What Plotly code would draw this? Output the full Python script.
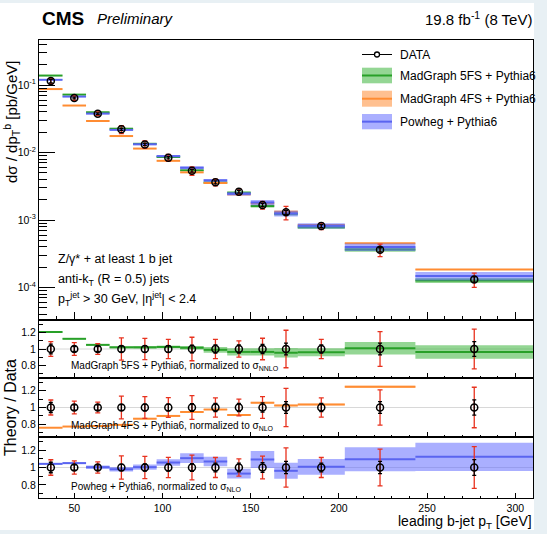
import plotly.graph_objects as go

# ---- binning (leading b-jet pT, GeV) ----
edges = [30, 43.33, 56.67, 70, 83.33, 96.67, 110, 123.33, 136.67, 150,
         163.33, 176.67, 203.33, 243.33, 310]
data_x = [36.7, 50, 63.3, 76.7, 90, 103.3, 116.7, 130, 143.3, 156.7,
          170, 190, 223.3, 276.7]

# ---- unfolded data: dsigma/dpT [pb/GeV] ----
data_xsec = [0.1146, 0.0642, 0.0376, 0.0221, 0.0132, 0.00837, 0.00537,
             0.00362, 0.00263, 0.00167, 0.00130, 0.000815, 0.000363, 0.000132]
data_tot_rel = [0.089, 0.076, 0.064, 0.134, 0.128, 0.117, 0.142, 0.115,
                0.099, 0.130, 0.226, 0.115, 0.210, 0.240]
data_stat_rel = [0.060, 0.030, 0.030, 0.035, 0.040, 0.040, 0.045, 0.050,
                 0.050, 0.055, 0.070, 0.050, 0.070, 0.090]

# ---- predictions, as theory / data ratios with relative MC uncertainty ----
mg5_ratio = [1.205, 1.123, 1.050, 1.020, 1.020, 1.025, 1.015, 0.990,
             0.965, 0.965, 0.955, 0.960, 1.008, 0.963]
mg5_unc = [0.005, 0.006, 0.008, 0.012, 0.015, 0.015, 0.020, 0.035,
           0.045, 0.045, 0.060, 0.050, 0.075, 0.085]
mg4_ratio = [0.760, 0.774, 0.780, 0.794, 0.867, 0.900, 0.947, 0.976,
             0.911, 1.057, 1.024, 1.036, 1.246, 1.400]
mg4_unc = [0.005, 0.005, 0.005, 0.005, 0.006, 0.006, 0.006, 0.007,
           0.007, 0.008, 0.008, 0.008, 0.010, 0.010]
pow_ratio = [1.042, 1.050, 1.004, 0.980, 1.004, 1.057, 1.107, 1.069,
             0.930, 1.092, 0.962, 1.008, 1.095, 1.122]
pow_unc = [0.008, 0.010, 0.020, 0.025, 0.030, 0.035, 0.050, 0.050,
           0.060, 0.090, 0.095, 0.090, 0.125, 0.145]

x_ticks = [50, 100, 150, 200, 250, 300]
y_decades = [1e-4, 1e-3, 1e-2, 1e-1]
y_decade_text = ["10<sup>-4</sup>", "10<sup>-3</sup>", "10<sup>-2</sup>", "10<sup>-1</sup>"]
ratio_ticks = [0.8, 1.0, 1.2]
ratio_ticktext = ["0.8", "1", "1.2"]

models = [
    ("MadGraph 5FS + Pythia6", mg5_ratio, mg5_unc, "rgba(60,180,60,0.55)", "rgb(40,160,40)",
     "MadGraph 5FS + Pythia6, normalized to σ<sub>NNLO</sub>"),
    ("MadGraph 4FS + Pythia6", mg4_ratio, mg4_unc, "rgba(255,150,70,0.6)", "rgb(255,140,50)",
     "MadGraph 4FS + Pythia6, normalized to σ<sub>NLO</sub>"),
    ("Powheg + Pythia6", pow_ratio, pow_unc, "rgba(100,110,255,0.55)", "rgb(90,100,240)",
     "Powheg + Pythia6, normalized to σ<sub>NLO</sub>"),
]

FONT = "Liberation Sans, Arial, sans-serif"
W, H = 547, 534
ML, MR, MT, MB = 39, 14, 40, 36
PW, PH = W - ML - MR, H - MT - MB


def px(x):
    return (x - ML) / PW


def py(y):
    return (H - MB - y) / PH


def boxes(vals, rel):
    xs, ys = [], []
    for i, v in enumerate(vals):
        lo, hi = v * (1 - rel[i]), v * (1 + rel[i])
        xs += [edges[i], edges[i + 1], edges[i + 1], edges[i], edges[i], None]
        ys += [lo, lo, hi, hi, lo, None]
    return xs, ys


def segments(vals):
    xs, ys = [], []
    for i, v in enumerate(vals):
        xs += [edges[i], edges[i + 1], None]
        ys += [v, v, None]
    return xs, ys


fig = go.Figure()

# ---- main panel: predictions ----
for name, ratio, unc, fillc, linec, _ in models:
    pred = [r * d for r, d in zip(ratio, data_xsec)]
    bx, by = boxes(pred, unc)
    fig.add_trace(go.Scatter(x=bx, y=by, fill="toself", fillcolor=fillc, mode="none",
                             xaxis="x", yaxis="y", hoverinfo="skip", showlegend=False))
    sx, sy = segments(pred)
    fig.add_trace(go.Scatter(x=sx, y=sy, mode="lines", line=dict(color=linec, width=2),
                             xaxis="x", yaxis="y", hoverinfo="skip", showlegend=False))


def add_data(xa, ya, yvals, scale):
    tot = [r * s for r, s in zip(data_tot_rel, scale)]
    stat = [r * s for r, s in zip(data_stat_rel, scale)]
    fig.add_trace(go.Scatter(x=data_x, y=yvals, mode="markers", xaxis=xa, yaxis=ya,
                             marker=dict(size=1, color="rgba(0,0,0,0)"),
                             error_y=dict(type="data", array=tot, color="#e8321e",
                                          thickness=1.3, width=2.5),
                             hoverinfo="skip", showlegend=False))
    fig.add_trace(go.Scatter(x=data_x, y=yvals, mode="markers", xaxis=xa, yaxis=ya,
                             marker=dict(symbol="circle-open", size=7, color="black",
                                         line=dict(width=1.5, color="black")),
                             error_y=dict(type="data", array=stat, color="black",
                                          thickness=1.3, width=2),
                             showlegend=False))


add_data("x", "y", data_xsec, data_xsec)

# ---- ratio panels ----
for k, (name, ratio, unc, fillc, linec, label) in enumerate(models):
    xa, ya = f"x{k + 2}", f"y{k + 2}"
    bx, by = boxes(ratio, unc)
    fig.add_trace(go.Scatter(x=bx, y=by, fill="toself", fillcolor=fillc, mode="none",
                             xaxis=xa, yaxis=ya, hoverinfo="skip", showlegend=False))
    sx, sy = segments(ratio)
    fig.add_trace(go.Scatter(x=sx, y=sy, mode="lines", line=dict(color=linec, width=2),
                             xaxis=xa, yaxis=ya, hoverinfo="skip", showlegend=False))
    ones = [1.0] * len(data_x)
    add_data(xa, ya, ones, ones)

axis_common = dict(showline=True, linecolor="black", linewidth=1, mirror=True,
                   ticks="inside", tickcolor="black", showgrid=False, zeroline=False,
                   tickfont=dict(family=FONT, size=10.5, color="black"))

doms = [(40, 320), (320, 378), (378, 437), (437, 498)]
layout = dict(width=W, height=H, margin=dict(l=ML, r=MR, t=MT, b=MB),
              paper_bgcolor="#e8f0f4", plot_bgcolor="white", showlegend=False,
              font=dict(family=FONT, color="black"))

for k, (top, bot) in enumerate(doms):
    sfx = "" if k == 0 else str(k + 1)
    main = k == 0
    layout["xaxis" + sfx] = dict(
        axis_common, domain=[0, 1], range=[30, 310], anchor="y" + sfx,
        tickvals=x_ticks, ticklen=8 if main else 5, showticklabels=(k == 3),
        minor=dict(ticks="inside", dtick=10, tick0=0, ticklen=4 if main else 2.5,
                   tickcolor="black"))
    if main:
        minor_vals = [m * 10 ** e for e in range(-5, 0) for m in range(2, 10)]
        layout["yaxis"] = dict(
            axis_common, domain=[py(bot), py(top)], type="log", range=[-4.481, -0.333],
            anchor="x", tickvals=y_decades, ticktext=y_decade_text, ticklen=16,
            minor=dict(ticks="inside", tickvals=minor_vals, ticklen=8, tickcolor="black"))
    else:
        layout["yaxis" + sfx] = dict(
            axis_common, domain=[py(bot), py(top)], range=[0.65, 1.35], anchor="x" + sfx,
            tickvals=ratio_ticks, ticktext=ratio_ticktext, ticklen=7,
            minor=dict(ticks="inside", tickvals=[0.7, 0.9, 1.1, 1.3], ticklen=3.5,
                       tickcolor="black"))

fig.update_layout(**layout)

shapes = [dict(type="rect", xref="paper", yref="paper", x0=px(0), x1=px(534),
               y0=py(530), y1=py(3), fillcolor="white", line=dict(width=0), layer="below")]
for k in range(3):
    shapes.append(dict(type="line", xref=f"x{k + 2} domain", yref=f"y{k + 2}",
                       x0=0, x1=1, y0=1, y1=1, line=dict(color="#d8d8d8", width=1),
                       layer="below"))

# legend
shapes.append(dict(type="line", xref="paper", yref="paper", x0=px(362), x1=px(392),
                   y0=py(54.5), y1=py(54.5), line=dict(color="black", width=1)))
shapes.append(dict(type="circle", xref="paper", yref="paper", x0=px(374.5), x1=px(379.5),
                   y0=py(57), y1=py(52), fillcolor="white",
                   line=dict(color="black", width=1.3)))
leg_rows = [(67.7, 83.3), (90.7, 106.7), (114, 129.3)]
for (name, _, _, fillc, linec, _), (y0, y1) in zip(models, leg_rows):
    shapes.append(dict(type="rect", xref="paper", yref="paper", x0=px(362), x1=px(392),
                       y0=py(y1), y1=py(y0), fillcolor=fillc, line=dict(width=0)))
    ym = (y0 + y1) / 2
    shapes.append(dict(type="line", xref="paper", yref="paper", x0=px(362), x1=px(392),
                       y0=py(ym), y1=py(ym), line=dict(color=linec, width=2)))
fig.update_layout(shapes=shapes)


def text(x, y, s, size, xanchor="left", angle=0, **kw):
    fig.add_annotation(x=px(x), y=py(y), xref="paper", yref="paper", text=s,
                       showarrow=False, xanchor=xanchor, yanchor="middle",
                       textangle=angle, font=dict(family=FONT, size=size, color="black"),
                       **kw)


text(398, 54.5, "DATA", 12)
for (name, *_), (y0, y1) in zip(models, leg_rows):
    text(398, (y0 + y1) / 2, name, 12)

text(40, 18, "<b>CMS</b>", 19)
text(95, 19, "<i>Preliminary</i>", 15)
text(534, 18, "19.8 fb<sup>-1</sup> (8 TeV)", 15, xanchor="right")

text(56, 259, "Z/γ* + at least 1 b jet", 12.5)
text(56, 280, "anti-k<sub>T</sub> (R = 0.5) jets", 12.5)
text(56, 299, "p<sub>T</sub><sup>jet</sup> > 30 GeV, |η<sup>jet</sup>| < 2.4", 12.5)

for k, (*_, label) in enumerate(models):
    yc = [366, 426, 487][k]
    text(69, yc, label, 10)

text(12, 122, "dσ / dp<sub>T</sub><sup>b</sup> [pb/GeV]", 15, xanchor="center", angle=-90)
text(10, 408, "Theory / Data", 16, xanchor="center", angle=-90)
text(534, 522, "leading b-jet p<sub>T</sub> [GeV]", 14, xanchor="right")

fig.write_html("out.html")
